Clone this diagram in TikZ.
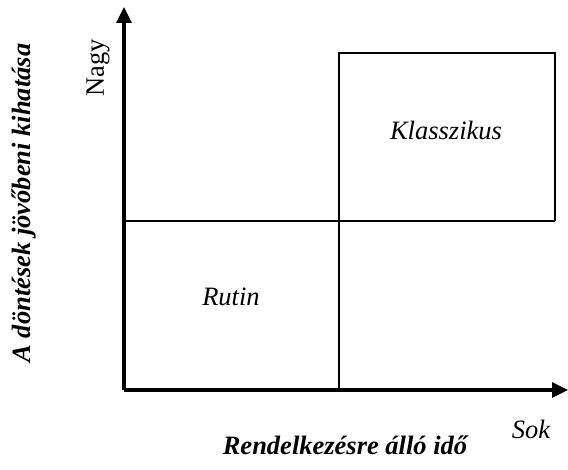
\documentclass[tikz,border=0pt]{standalone}
\usepackage{fontspec}
\setmainfont{Liberation Serif}
\usetikzlibrary{arrows.meta}
\begin{document}
\begin{tikzpicture}[x=1pt,y=-1pt,
  axis/.style={line width=3.2pt,-{Triangle[length=16pt,width=15pt]}},
  thin/.style={line width=1.5pt},
  lbl/.style={inner sep=0pt,font=\fontsize{26.5}{30}\selectfont\itshape},
  blbl/.style={inner sep=0pt,font=\fontsize{26.5}{30}\selectfont\bfseries\itshape}]
\useasboundingbox (0,0) rectangle (568,470);
\coordinate (O) at (124,390);
\coordinate (ytop) at (124,7);
\coordinate (xend) at (568,390);
\coordinate (ml) at (124,221);
\coordinate (mr) at (555,221);
\coordinate (vb) at (339,390);
\coordinate (vt) at (339,53);
\coordinate (tr) at (555,53);
\draw[thin] (ml) -- (mr);
\draw[thin] (vb) -- (vt) -- (tr) -- (mr);
\draw[axis] (O) -- (ytop);
\draw[axis] (O) -- (xend);
\node[lbl] (klassz) at (446,130) {Klasszikus};
\node[lbl] (rutin) at (231,297) {Rutin};
\node[lbl] (sok) at (531,429) {Sok};
\node[inner sep=0pt,font=\fontsize{26.5}{30}\selectfont,rotate=90] (nagy) at (98,68) {Nagy};
\node[blbl] (xlab) at (345,445) {Rendelkezésre álló idő};
\node[blbl,rotate=90] (ylab) at (24,203) {A döntések jövőbeni kihatása};
\end{tikzpicture}
\end{document}
